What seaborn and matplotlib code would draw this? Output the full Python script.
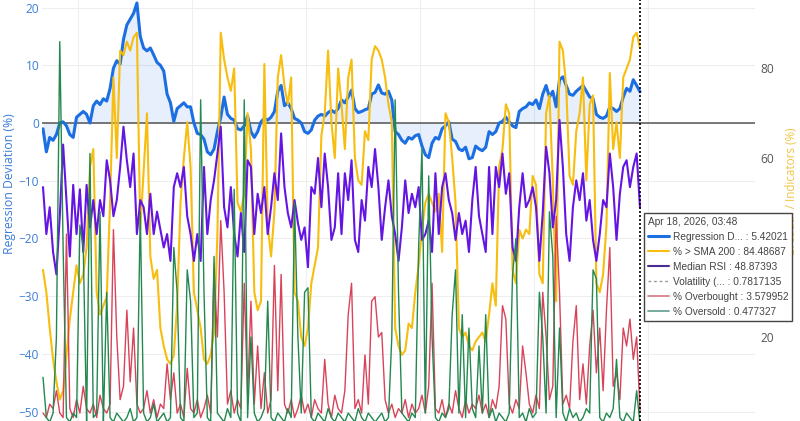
# Market regression deviation vs breadth indicators (dual axis)

import numpy as np
import pandas as pd
import seaborn as sns
import matplotlib.pyplot as plt
from matplotlib.lines import Line2D

# values, one point per ~3.35 px of the time axis
reg_dev = [-1, -5, -2.5, -3, -2, 0, 0.2, -0.5, -2, -2.5,
           1, 1.5, 2, 1.5, 0, 3, 3.8, 3.2, 4.2, 3.8,
           6, 9.5, 10.8, 10.2, 14.5, 17, 18, 19, 20.8, 15,
           13, 12.5, 13, 11.8, 10.5, 10, 9, 5, 3.5, 0.3,
           2.5, 3, 3.5, 2.8, 2.8, 0, -1.8, -2, -2.8, -5,
           -5.5, -4.5, -1.5, 1, 4.5, 1.5, 0.8, 0.5, -1, -1.2,
           -0.5, 1.2, -1.5, -2.5, -1.5, 0.2, 0.8, 0.5, 1, 2,
           5.5, 6.5, 3, 3.5, 2.5, 0.8, 0.5, 0, -1.5, -1.8,
           -1.2, 0.5, 1.2, 1.5, 1.2, 1.8, 2.2, 1.8, 2.5, 4,
           3.5, 4.5, 5.7, 2.5, 1.8, 2, 2.3, 2.5, 5, 5.3,
           6.6, 5.2, 5, 5.5, 4, -1.5, -2, -3, -3.5, -2.5,
           -2.8, -2.2, -2, -4, -5.5, -6, -3.5, -2.5, -2.8, -1,
           -0.5, 0.2, -2.8, -3.2, -4.5, -4.8, -4.2, -6.2, -6, -4,
           -4.5, -4.8, -4.2, -1.5, -2, -1.5, 0, 0.3, 1, 0.2,
           -0.5, -0.8, 2, 2.5, 2.8, 3.5, 3.2, 4, 2.5, 5,
           6.5, 4.5, 5.5, 2.8, 7.5, 8, 6.5, 5, 4.8, 5.5,
           6, 6.5, 5.5, 4.5, 4.2, 1.5, 1, 0.8, 1.2, 2.8,
           2.5, 2, 2.5, 4.5, 6, 5.5, 7.5, 6.5, 5.42021]

pct_above_sma200 = [35, 30, 22, 15, 10, 6, 8, 16, 24, 30,
                    36, 32, 34, 40, 58, 62, 30, 25, 27, 29,
                    50, 78, 60, 84, 83, 86, 84, 87, 88, 44,
                    57, 70, 38, 33, 35, 22, 18, 15, 14, 16,
                    27, 50, 60, 68, 58, 30, 26, 22, 15, 14,
                    16, 21, 43, 88, 82, 78, 75, 80, 50, 48,
                    52, 70, 62, 30, 26, 28, 81, 45, 38, 48,
                    78, 83, 76, 72, 78, 30, 28, 20, 18, 22,
                    32, 36, 40, 65, 70, 84, 68, 60, 80, 72,
                    62, 78, 82, 60, 55, 54, 66, 64, 82, 85,
                    84, 82, 78, 72, 68, 22, 18, 16, 17, 23,
                    22, 30, 36, 44, 50, 52, 50, 48, 52, 39,
                    70, 68, 60, 50, 22, 20, 21, 18, 17, 19,
                    20, 21, 19, 25, 32, 27, 58, 62, 72, 70,
                    35, 32, 44, 42, 44, 43, 56, 54, 34, 32,
                    70, 74, 55, 28, 86, 84, 76, 56, 54, 66,
                    70, 78, 55, 72, 74, 32, 30, 34, 45, 79,
                    62, 68, 60, 78, 80, 82, 87, 88, 84.48687]

median_rsi = [53.5, 43, 49, 39, 34, 47, 63, 50.6, 38, 54,
              43, 53, 39, 54, 44.5, 50.6, 43, 50.6, 47, 59.5,
              55, 47, 50.6, 58, 67, 59.5, 53.5, 61, 43, 50.6,
              49, 43, 52, 43, 48, 44, 40, 43, 37, 53.5,
              56.6, 53.5, 58, 47,
              43, 37, 43, 37, 58, 43, 50.6, 55, 61, 67,
              49, 44.5, 53.5, 43, 38, 47.7, 39, 59.5, 58, 43,
              52, 47.7, 53.5, 43, 49, 56.6, 50.6, 65.5, 53.5, 47.7,
              44.5, 50.6, 45.5, 41.7, 44.5, 35.6, 53.5, 52, 60, 49,
              61, 53.5, 41.7, 44.5, 56.6,
              43, 56.6, 50.6, 59.5, 41.7, 39, 50.6, 46, 58, 53.5,
              62, 53.5, 41.7, 49, 55, 47, 43, 37, 44.5, 55,
              47.7, 52, 49, 53.5, 41.7, 43, 46, 39, 56.6, 43,
              53.5, 56.6, 50.6, 47.7, 41.7, 47.7, 43, 46, 39, 50.6,
              58, 47, 43, 39, 58,
              43, 58, 53.5, 61, 52, 56.6, 40, 37, 49, 56.6,
              49, 50.6, 53.5, 49, 37, 47.7, 62.5, 56.6, 44.5, 50.6,
              68.5, 58, 43, 37, 49, 55, 50.6, 56.6, 46, 50.6,
              41.7, 37, 43, 50.6, 49, 61, 53.5, 41.7, 52, 58,
              59.5, 53.5, 58, 61, 48.87393]

pct_overbought = [3, 2, 5, 4, 8, 3, 2, 43, 4, 2,
                  6, 3, 9, 4, 3, 5, 2, 7, 4, 3,
                  5, 44, 20, 6, 9, 26, 10, 22, 5, 3,
                  4, 8, 3, 6, 2, 5, 4, 14, 6, 12,
                  3, 5, 2, 13, 4, 3, 6, 2, 4, 7,
                  3, 35, 20, 46, 30, 5, 8, 3, 6, 4,
                  32, 7, 28, 5, 18, 4, 12, 3, 6, 36,
                  8, 34, 5, 3, 6, 2, 4, 7, 3, 5,
                  2, 6, 4, 3, 15, 5, 2, 7, 4, 3,
                  8, 25, 32, 4, 6, 3, 16, 5, 28, 29,
                  20, 21, 6, 3, 5, 2, 4, 3, 6, 2,
                  5, 3, 4, 7, 3, 9, 32, 4, 3, 6,
                  2, 5, 3, 8, 4, 2, 6, 3, 5, 4,
                  7, 3, 5, 2, 6, 4, 9, 27, 24, 5,
                  3, 6, 4, 18, 12, 5, 3, 7, 4, 30,
                  20, 6, 9, 47, 30, 5, 7, 4, 19, 27,
                  6, 14, 5, 18, 26, 12, 22, 8, 26, 40,
                  9, 12, 6, 22, 18, 24, 15, 20, 3.579952]

pct_oversold = [11, 2, 1, 3, 20, 86, 40, 2, 1, 3,
                2, 45, 40, 1, 61, 2, 3, 48, 1, 30,
                2, 1, 3, 2, 1, 2, 4, 1, 2, 48,
                3, 1, 2, 5, 1, 2, 3, 1, 2, 40,
                30, 2, 1, 35, 28, 2, 3, 73, 30, 2,
                1, 38, 3, 2, 1, 4, 2, 53, 3, 1,
                73, 2, 20, 3, 1, 2, 4, 28, 2, 1,
                3, 2, 1, 4, 2, 50, 20, 3, 30, 31,
                2, 1, 3, 2, 1, 4, 2, 1, 3, 2,
                1, 3, 2, 1, 4, 2, 1, 3, 2, 1,
                2, 3, 1, 2, 20, 73, 30, 3, 2, 1,
                3, 2, 40, 62, 3, 56, 20, 2, 1, 3,
                2, 4, 25, 35, 3, 25, 2, 22, 4, 2,
                18, 3, 25, 2, 4, 1, 3, 2, 1, 3,
                34, 42, 2, 3, 1, 4, 2, 3, 30, 20,
                3, 48, 38, 2, 22, 3, 1, 4, 2, 3,
                1, 2, 4, 3, 35, 33, 2, 1, 3, 2,
                4, 15, 2, 1, 3, 2, 1, 8, 0.477327]

volatility_last = 0.7817135
hover_time = "Apr 18, 2026, 03:48"

left_ticks = [-50, -40, -30, -20, -10, 0, 10, 20]
right_ticks = [20, 60, 80]   # 40 sits under the hover box

df = pd.DataFrame({'reg_dev': reg_dev,
                   'sma200': pct_above_sma200,
                   'rsi': median_rsi,
                   'overbought': pct_overbought,
                   'oversold': pct_oversold})
df['t'] = np.arange(len(df))

BLUE = '#1c6fe3'
GOLD = '#f7bd0f'
PURPLE = '#6415e3'
RED = '#d8435a'
GREEN = '#23884f'

sns.set_style('white')
plt.rcParams['font.family'] = ['Open Sans', 'DejaVu Sans']

fig = plt.figure(figsize=(8, 4.21), dpi=100)
ax1 = fig.add_axes([42 / 800, 0, 713 / 800, 1])
ax2 = ax1.twinx()

# left axis: regression deviation with fill to zero
ax1.fill_between(df['t'], df['reg_dev'], 0, color=BLUE, alpha=0.11, lw=0, zorder=1)
ax1.axhline(0, color='#555555', lw=1.1, zorder=2)
sns.lineplot(data=df, x='t', y='reg_dev', ax=ax1, color=BLUE, lw=2.2, zorder=3)

# right axis: breadth indicators
sns.lineplot(data=df, x='t', y='sma200', ax=ax2, color=GOLD, lw=1.5)
sns.lineplot(data=df, x='t', y='rsi', ax=ax2, color=PURPLE, lw=1.5)
sns.lineplot(data=df, x='t', y='overbought', ax=ax2, color=RED, lw=1.0)
sns.lineplot(data=df, x='t', y='oversold', ax=ax2, color=GREEN, lw=1.0)

# hover spike line at the last point
ax2.axvline(df['t'].iloc[-1], color='black', ls=(0, (1.2, 1.2)), lw=1.2)

step = 597 / (len(df) - 1)
ax1.set_xlim(-1 / step, 712 / step)
ax1.set_ylim(-298 / 5.77, 123 / 5.77)
ax2.set_ylim(20 - 84 / 4.475, 20 + 337 / 4.475)

ax1.set_xticks(np.arange(10.4, 212, 34))
ax1.set_xticklabels([])
ax1.set_yticks(left_ticks)
ax2.set_yticks(right_ticks)
ax1.grid(True, color='#eeeeee', lw=0.8)
ax2.grid(False)
ax1.tick_params(axis='y', length=0, pad=2, labelsize=8.6, labelcolor='#3b7dd8')
ax1.tick_params(axis='x', length=0)
ax2.tick_params(axis='y', length=0, pad=4, labelsize=8.6, labelcolor='#555555')
for ax in (ax1, ax2):
    for sp in ax.spines.values():
        sp.set_visible(False)

ax1.set_xlabel('')
ax1.set_ylabel('Regression Deviation (%)', color='#3b7dd8', fontsize=8.8)
ax1.yaxis.set_label_coords(-0.037, 0.565)
ax2.set_ylabel('Breadth / Indicators (%)', color='#f0c445', fontsize=8.4)
ax2.yaxis.label.set_horizontalalignment('right')
ax2.yaxis.set_label_coords(1.042, 0.698)

# unified hover box
handles = [Line2D([], [], color=BLUE, lw=2.2),
           Line2D([], [], color=GOLD, lw=1.5),
           Line2D([], [], color='#4a2d8f', lw=1.5),
           Line2D([], [], color='#999999', lw=1.0, ls=(0, (2, 2))),
           Line2D([], [], color='#d9828e', lw=1.3),
           Line2D([], [], color='#6ba597', lw=1.3)]
labels = [f"Regression D... : {reg_dev[-1]:.7g}",
          f"% > SMA 200 : {pct_above_sma200[-1]:.7g}",
          f"Median RSI : {median_rsi[-1]:.7g}",
          f"Volatility (... : {volatility_last:.7g}",
          f"% Overbought : {pct_overbought[-1]:.7g}",
          f"% Oversold : {pct_oversold[-1]:.7g}"]
leg = fig.legend(handles, labels, title=hover_time, loc='upper left',
                 bbox_to_anchor=(644 / 800, 1 - 213 / 421), bbox_transform=fig.transFigure,
                 prop={'family': ['Liberation Sans', 'DejaVu Sans'], 'size': 7.3},
                 alignment='left', frameon=True, fancybox=False,
                 handlelength=2.1, handletextpad=0.45, labelspacing=0.5, borderpad=0.35,
                 borderaxespad=0)
leg.get_title().set_fontfamily(['Liberation Sans', 'DejaVu Sans'])
leg.get_title().set_fontsize(7.3)
leg.get_frame().set_edgecolor('#444444')
leg.get_frame().set_linewidth(1.0)
leg.get_frame().set_facecolor('white')
leg.get_frame().set_alpha(1)
for txt in leg.get_texts():
    txt.set_color('#444444')
leg.get_title().set_color('#444444')

fig.savefig('out.png', dpi=100)
